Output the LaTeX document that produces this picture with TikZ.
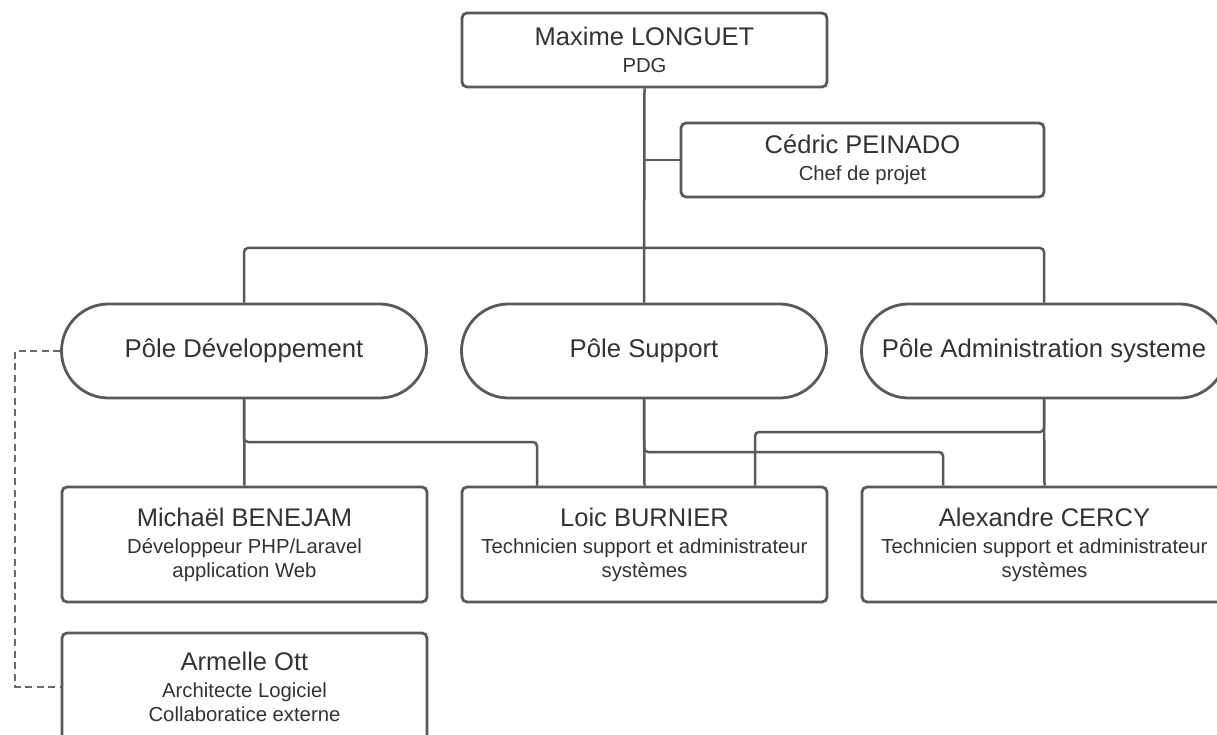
\documentclass[tikz,border=0pt]{standalone}
\usepackage{fontspec}
\setmainfont{Liberation Sans}
\definecolor{linec}{HTML}{595959}
\definecolor{textc}{HTML}{333333}
\definecolor{dashc}{HTML}{6A6A6A}
\newcommand\nmf{\fontsize{25.5}{27}\selectfont}
\newcommand\sbf{\fontsize{20.3}{24}\selectfont}
\newcommand\plf{\fontsize{25.7}{27}\selectfont}
\begin{document}
\begin{tikzpicture}[x=1pt,y=-1pt,
  box/.style={draw=linec, line width=2.8pt, rounded corners=5pt, fill=white,
    text=textc, align=center, minimum width=365pt, inner sep=0pt, font=\sbf},
  pill/.style={box, rounded corners=47pt, minimum height=94pt, font=\plf},
  conn/.style={draw=linec, line width=2.5pt, rounded corners=4pt},
  ext/.style={draw=dashc, line width=2pt, dash pattern=on 7pt off 4.5pt}]
\useasboundingbox (0,0) rectangle (1217,735);
\clip (0,0) rectangle (1217,735);
% nodes
\node[box, minimum height=74pt] (ceo) at (644.5,50) {{\nmf Maxime LONGUET}\\[3pt]PDG};
\node[box, minimum height=74pt, minimum width=363pt] (cedric) at (862.5,160) {{\nmf Cédric PEINADO}\\[3pt]Chef de projet};
\node[pill] (dev) at (244,351) {Pôle Développement};
\node[pill] (sup) at (644,351) {Pôle Support};
\node[pill] (adm) at (1044,351) {Pôle Administration systeme};
\node[box, minimum height=115pt] (mich) at (244.5,544.5) {{\nmf Michaël BENEJAM}\\[3pt]Développeur PHP/Laravel\\application Web};
\node[box, minimum height=115pt] (loic) at (644.5,544.5) {{\nmf Loic BURNIER}\\[3pt]Technicien support et administrateur\\systèmes};
\node[box, minimum height=115pt] (alex) at (1044.5,544.5) {{\nmf Alexandre CERCY}\\[3pt]Technicien support et administrateur\\systèmes};
\node[box, minimum height=107pt] (arm) at (244.5,686.5) {{\nmf Armelle Ott}\\[3pt]Architecte Logiciel\\Collaboratice externe};
% coordinates
\coordinate (bus) at (644,248);
\coordinate (j1) at (537,442);
\coordinate (j2) at (943,452);
\coordinate (j3) at (755,432);
\coordinate (dx) at (15,0);
% connectors
\draw[conn] (ceo.south) -- (sup.north);
\draw[conn] (cedric.west) -- (cedric.west -| ceo.south);
\draw[conn] (dev.north) |- (bus) -| (adm.north);
\draw[conn] (dev.south) -- (mich.north);
\draw[conn] (dev.south) |- (j1) -- (loic.north -| j1);
\draw[conn] (sup.south) -- (loic.north);
\draw[conn] (sup.south) |- (j2) -- (alex.north -| j2);
\draw[conn] (adm.south) -- (alex.north);
\draw[conn] (adm.south) |- (j3) -- (loic.north -| j3);
\draw[ext] (dev.west) -- (dev.west -| dx) |- (arm.west);
\end{tikzpicture}
\end{document}
